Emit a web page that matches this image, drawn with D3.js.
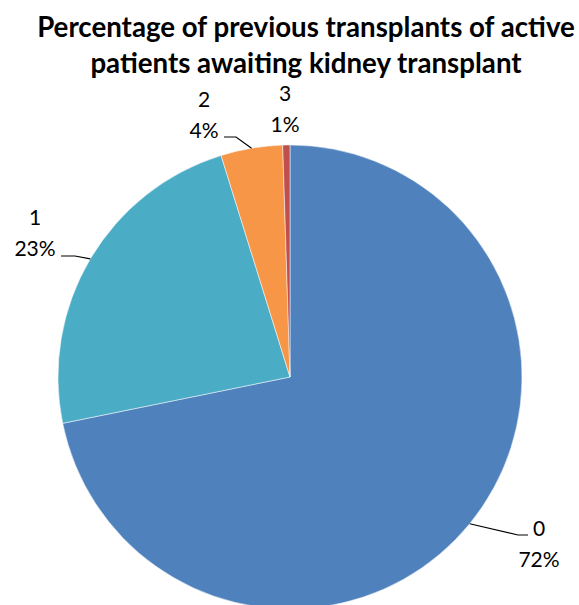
<!DOCTYPE html>
<html>
<head>
<meta charset="utf-8">
<script src="https://cdn.jsdelivr.net/npm/d3@7"></script>
<style>
  body { margin: 0; background: #fff; }
  svg { display: block; }
</style>
</head>
<body>
<svg id="chart" width="579" height="605"></svg>
<script>
const categories = ['0', '1', '2', '3']
const shares = [71.8, 23.4, 4.3, 0.5]
const colors = ['#4F81BD', '#4BACC6', '#F79646', '#C0504D']
const titleLines = ['Percentage of previous transplants of active', 'patients awaiting kidney transplant']

const svg = d3.select('#chart')
const cx = 290, cy = 377, radius = 232

// title, sized so the first line spans the same width as the original
const title = svg.append('g').selectAll('text')
  .data(titleLines)
  .join('text')
  .attr('x', 306)
  .attr('y', (d, i) => 37 + i * 36)
  .attr('text-anchor', 'middle')
  .style('font-family', 'Lato, "Open Sans", sans-serif')
  .style('font-weight', 'bold')
  .style('font-size', '25px')
  .text(d => d)
const w = title.node().getComputedTextLength()
title.style('font-size', (25 * 538 / w) + 'px')

const pie = d3.pie().sort(null).value(d => d)
const arc = d3.arc().innerRadius(0).outerRadius(radius)
const arcs = pie(shares)

const g = svg.append('g').attr('transform', `translate(${cx},${cy})`)
g.selectAll('path')
  .data(arcs)
  .join('path')
  .attr('d', arc)
  .attr('fill', (d, i) => colors[i])
  .attr('stroke', '#fff')
  .attr('stroke-width', 0.5)

// label placement per slice (excel-like outside labels)
const labelPos = [
  { x: 539, y: 536, line: [[528, 535], [518, 535]] },
  { x: 35, y: 225, line: [[61, 256], [75, 256]] },
  { x: 204, y: 107, line: [[224, 137], [236, 137]] },
  { x: 285, y: 101, line: null }
]

const labels = svg.append('g')
arcs.forEach((d, i) => {
  const p = labelPos[i]
  if (p.line) {
    const mid = (d.startAngle + d.endAngle) / 2
    const edge = [cx + Math.sin(mid) * radius, cy - Math.cos(mid) * radius]
    labels.append('path')
      .attr('d', d3.line()([...p.line, edge]))
      .attr('fill', 'none')
      .attr('stroke', '#000')
      .attr('stroke-width', 1.2)
  }
  const t = labels.append('text')
    .attr('text-anchor', 'middle')
    .style('font-family', 'Lato, "Open Sans", sans-serif')
    .style('font-size', '21px')
  t.append('tspan').attr('x', p.x).attr('y', p.y).text(categories[i])
  t.append('tspan').attr('x', p.x).attr('y', p.y + 31).text(Math.round(shares[i]) + '%')
})
</script>
</body>
</html>
